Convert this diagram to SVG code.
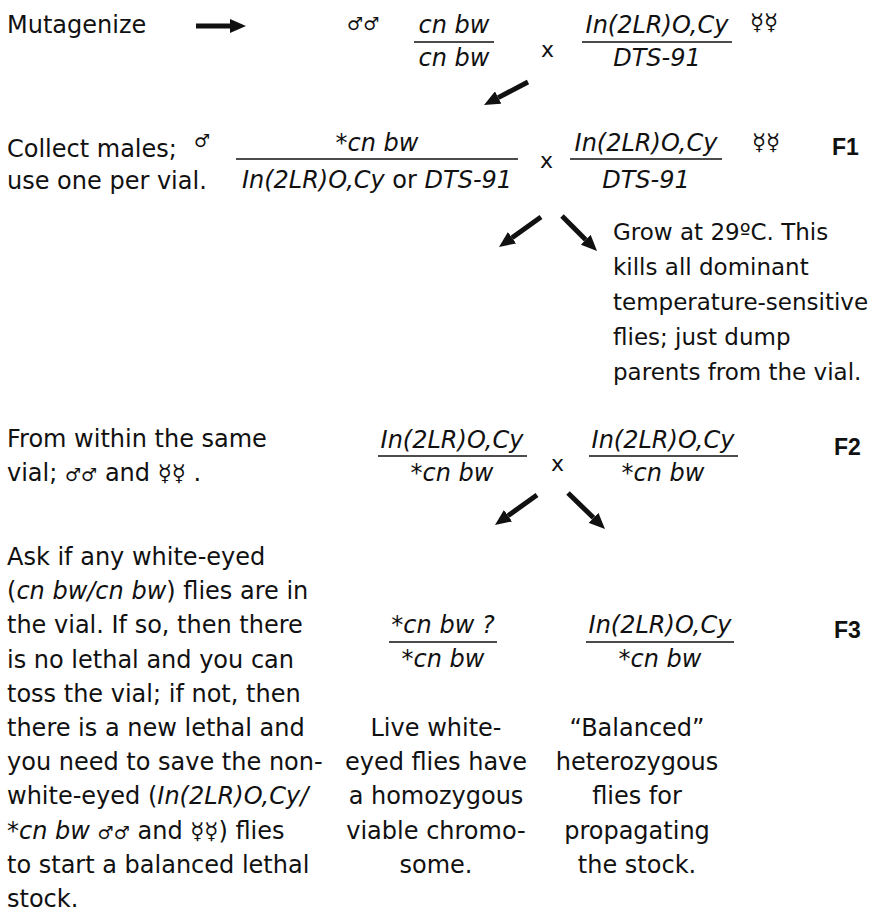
<svg xmlns="http://www.w3.org/2000/svg" width="883" height="916" viewBox="0 0 883 916">
<defs>
<style>
.t{font-family:"DejaVu Sans","Liberation Sans",sans-serif;font-size:24px;fill:#111}
.i{font-style:italic}
.m{text-anchor:middle}
.sym{font-size:18px}
.fem{font-size:23px}
.note{font-size:23px}
.lbl{font-family:"Liberation Sans",Arial,sans-serif;font-weight:bold;font-size:23px}
.x{font-size:22px}
.rule{stroke:#111;stroke-width:1.6}
.arr{stroke:#111;stroke-width:5;fill:none;marker-end:url(#ah)}
</style>
<marker id="ah" viewBox="0 -7 16 14" refX="0" refY="0" markerWidth="16" markerHeight="14" markerUnits="userSpaceOnUse" orient="auto">
<path d="M0,-7 L16,0 L0,7 z" fill="#111"/>
</marker>
</defs>
<rect width="883" height="916" fill="#fff"/>

<g id="row-p">
<text class="t" x="7" y="33">Mutagenize</text>
<text class="t sym" x="347" y="30">♂♂</text>
<g id="p-male-frac">
<text class="t i m" x="454" y="33">cn bw</text>
<line class="rule" x1="414" y1="42" x2="494" y2="42"/>
<text class="t i m" x="454" y="66">cn bw</text>
</g>
<text class="t x" x="541" y="57">x</text>
<g id="p-female-frac">
<text class="t i m" x="657" y="33">In(2LR)O,Cy</text>
<line class="rule" x1="582" y1="42" x2="732" y2="42"/>
<text class="t i m" x="657" y="66">DTS-91</text>
</g>
<text class="t fem" x="750" y="30">☿☿</text>
</g>

<g id="row-f1">
<text class="t" x="7" y="157">Collect males;</text>
<text class="t" x="7" y="189">use one per vial.</text>
<text class="t sym" x="194" y="147">♂</text>
<g id="f1-male-frac">
<text class="t i m" x="377" y="151">*cn bw</text>
<line class="rule" x1="236" y1="159" x2="518" y2="159"/>
<text class="t m" x="377" y="188"><tspan class="i">In(2LR)O,Cy</tspan> or <tspan class="i">DTS-91</tspan></text>
</g>
<text class="t x" x="540" y="168">x</text>
<g id="f1-female-frac">
<text class="t i m" x="646" y="151">In(2LR)O,Cy</text>
<line class="rule" x1="570" y1="159" x2="722" y2="159"/>
<text class="t i m" x="646" y="188">DTS-91</text>
</g>
<text class="t fem" x="752" y="150">☿☿</text>
<text class="t lbl" x="832" y="155">F1</text>
</g>

<g id="note-29C">
<text class="t note" x="613" y="240">Grow at 29ºC. This</text>
<text class="t note" x="613" y="275">kills all dominant</text>
<text class="t note" x="613" y="310">temperature-sensitive</text>
<text class="t note" x="613" y="345">flies; just dump</text>
<text class="t note" x="613" y="380">parents from the vial.</text>
</g>

<g id="row-f2">
<text class="t" x="7" y="447">From within the same</text>
<text class="t" x="7" y="481">vial; <tspan class="sym">♂♂</tspan> and <tspan class="fem">☿☿</tspan> .</text>
<g id="f2-frac-1">
<text class="t i m" x="452" y="448">In(2LR)O,Cy</text>
<line class="rule" x1="378" y1="456" x2="527" y2="456"/>
<text class="t i m" x="452" y="481">*cn bw</text>
</g>
<text class="t x" x="551" y="471">x</text>
<g id="f2-frac-2">
<text class="t i m" x="663" y="448">In(2LR)O,Cy</text>
<line class="rule" x1="589" y1="456" x2="738" y2="456"/>
<text class="t i m" x="663" y="481">*cn bw</text>
</g>
<text class="t lbl" x="834" y="455">F2</text>
</g>

<g id="row-f3-note">
<text class="t" x="7" y="565">Ask if any white-eyed</text>
<text class="t" x="7" y="599.2">(<tspan class="i">cn bw/cn bw</tspan>) flies are in</text>
<text class="t" x="7" y="633.4">the vial. If so, then there</text>
<text class="t" x="7" y="667.6">is no lethal and you can</text>
<text class="t" x="7" y="701.8">toss the vial; if not, then</text>
<text class="t" x="7" y="736">there is a new lethal and</text>
<text class="t" x="7" y="770.2">you need to save the non-</text>
<text class="t" x="7" y="804.4">white-eyed (<tspan class="i">In(2LR)O,Cy/</tspan></text>
<text class="t" x="7" y="838.6">*<tspan class="i">cn bw</tspan> <tspan class="sym">♂♂</tspan> and <tspan class="fem">☿☿</tspan>) flies</text>
<text class="t" x="7" y="872.8">to start a balanced lethal</text>
<text class="t" x="7" y="907">stock.</text>
</g>

<g id="f3-homozygote">
<text class="t i m" x="443" y="633">*cn bw ?</text>
<line class="rule" x1="389" y1="642" x2="497" y2="642"/>
<text class="t i m" x="443" y="667">*cn bw</text>
<text class="t m" x="436" y="736">Live white-</text>
<text class="t m" x="436" y="770.2">eyed flies have</text>
<text class="t m" x="436" y="804.4">a homozygous</text>
<text class="t m" x="436" y="838.6">viable chromo-</text>
<text class="t m" x="436" y="872.8">some.</text>
</g>

<g id="f3-balanced">
<text class="t i m" x="660" y="633">In(2LR)O,Cy</text>
<line class="rule" x1="586" y1="642" x2="734" y2="642"/>
<text class="t i m" x="660" y="667">*cn bw</text>
<text class="t m" x="637" y="736">“Balanced”</text>
<text class="t m" x="637" y="770.2">heterozygous</text>
<text class="t m" x="637" y="804.4">flies for</text>
<text class="t m" x="637" y="838.6">propagating</text>
<text class="t m" x="637" y="872.8">the stock.</text>
<text class="t lbl" x="834" y="638">F3</text>
</g>

<g id="connectors">
<line class="arr" x1="196" y1="26" x2="230" y2="26"/>
<line class="arr" x1="528" y1="82" x2="498.2" y2="97.6"/>
<line class="arr" x1="541" y1="217" x2="512" y2="237.7"/>
<line class="arr" x1="562" y1="216" x2="585.7" y2="239.7"/>
<line class="arr" x1="537" y1="495" x2="508" y2="515.7"/>
<line class="arr" x1="568" y1="493" x2="593.5" y2="517.8"/>
</g>
</svg>
